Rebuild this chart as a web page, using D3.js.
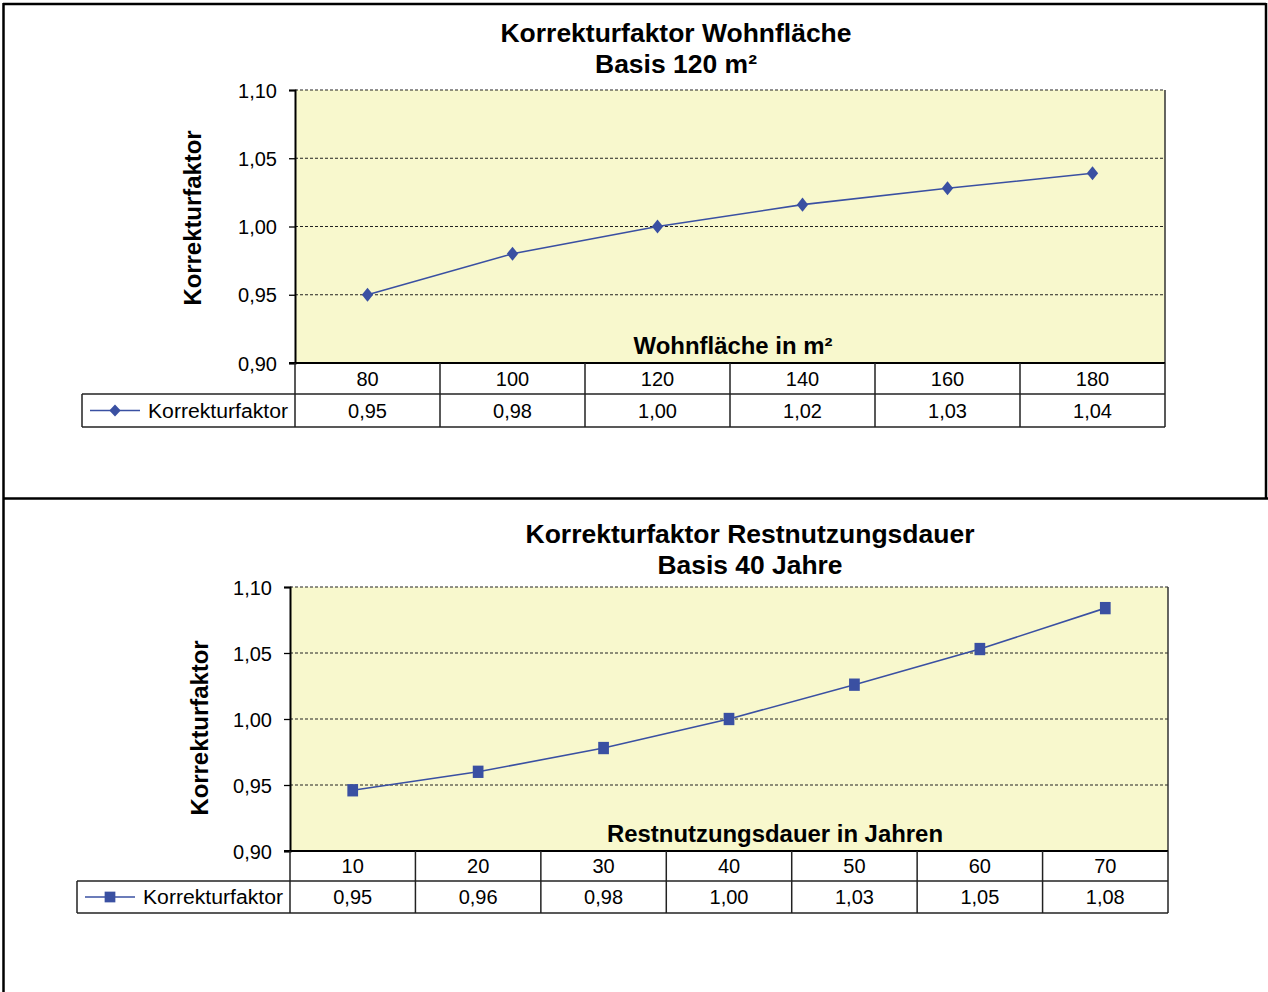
<!DOCTYPE html>
<html><head><meta charset="utf-8">
<script src="https://cdn.jsdelivr.net/npm/d3@7"></script>
<style>html,body{margin:0;padding:0;background:#fff;} svg{display:block;font-family:"Liberation Sans",Arial,sans-serif;}</style>
</head><body>
<svg id="c" width="1268" height="992"></svg>
<script>
// ---- data ----
const areaCategories = [80, 100, 120, 140, 160, 180];
const areaValues = [0.95, 0.98, 1.00, 1.016, 1.028, 1.039];
const durationCategories = [10, 20, 30, 40, 50, 60, 70];
const durationValues = [0.946, 0.96, 0.978, 1.00, 1.026, 1.053, 1.084];
const yTicks = [0.90, 0.95, 1.00, 1.05, 1.10];
const seriesName = "Korrekturfaktor";
const titles1 = ["Korrekturfaktor Wohnfläche", "Basis 120 m²"];
const titles2 = ["Korrekturfaktor Restnutzungsdauer", "Basis 40 Jahre"];
const xTitle1 = "Wohnfläche  in m²";
const xTitle2 = "Restnutzungsdauer in Jahren";

const svg = d3.select("#c");
const fmt = v => v.toFixed(2).replace(".", ",");
const BLUE = "#3A50A2";

// outer frame
svg.append("line").attr("x1",3).attr("x2",1266).attr("y1",4).attr("y2",4).attr("stroke","#000").attr("stroke-width",2.5);
svg.append("line").attr("x1",3.5).attr("x2",3.5).attr("y1",3).attr("y2",992).attr("stroke","#000").attr("stroke-width",2.5);
svg.append("line").attr("x1",1266).attr("x2",1266).attr("y1",3).attr("y2",498).attr("stroke","#000").attr("stroke-width",2.5);
svg.append("line").attr("x1",3).attr("x2",1268).attr("y1",498.5).attr("y2",498.5).attr("stroke","#000").attr("stroke-width",2.5);

function markerPath(type){
  return type==="diamond"
    ? { d: d3.symbol().type(d3.symbolSquare).size(64)(), tf: " rotate(45) scale(1,1)", pre:" scale(1,1.25)" }
    : { d: d3.symbol().type(d3.symbolSquare).size(115)(), tf: "", pre:" scale(1,1.15)" };
}

function chart(o){
  const g = svg.append("g");
  const x = d3.scaleBand().domain(o.cats).range([o.left, o.right]);
  const y = d3.scaleLinear().domain([0.90, 1.10]).range([o.bottom, o.top]);
  g.append("rect").attr("x",o.left).attr("y",o.top).attr("width",o.right-o.left).attr("height",o.bottom-o.top).attr("fill","#F8F8CD");
  g.selectAll(".grid").data(yTicks.filter(t=>t>0.9)).join("line")
    .attr("x1",o.left).attr("x2",o.right).attr("y1",d=>y(d)).attr("y2",d=>y(d))
    .attr("stroke","#222").attr("stroke-width",1.2).attr("stroke-dasharray","3,2");
  g.append("line").attr("x1",o.right).attr("x2",o.right).attr("y1",o.top).attr("y2",o.bottom).attr("stroke","#333").attr("stroke-width",1.5);
  const ya = g.append("g").attr("transform",`translate(${o.left},0)`)
    .call(d3.axisLeft(y).tickValues(yTicks).tickFormat(fmt).tickSize(6).tickPadding(12));
  ya.select(".domain").attr("stroke","#000").attr("stroke-width",2);
  ya.selectAll(".tick line").attr("stroke","#000").attr("stroke-width",1.3);
  ya.selectAll("text").attr("font-size",20).attr("fill","#000").attr("font-family","Liberation Sans, Arial, sans-serif").attr("dy","0.35em");
  g.append("line").attr("x1",o.left-6).attr("x2",o.right).attr("y1",o.bottom).attr("y2",o.bottom).attr("stroke","#000").attr("stroke-width",2);
  // y title
  g.append("text").attr("transform",`translate(${o.ylabX},${o.ylabY}) rotate(-90)`)
    .attr("text-anchor","middle").attr("font-weight","bold").attr("font-size",24)
    .attr("textLength",175).attr("lengthAdjust","spacingAndGlyphs").text(seriesName);
  // titles
  g.append("text").attr("x",o.titleX).attr("y",o.titleY).attr("text-anchor","middle").attr("font-weight","bold").attr("font-size",26)
    .attr("textLength",o.tl[0]).attr("lengthAdjust","spacingAndGlyphs").text(o.titles[0]);
  g.append("text").attr("x",o.titleX).attr("y",o.titleY+31).attr("text-anchor","middle").attr("font-weight","bold").attr("font-size",26)
    .attr("textLength",o.tl[1]).attr("lengthAdjust","spacingAndGlyphs").text(o.titles[1]);
  // x title
  g.append("text").attr("x",o.xtX).attr("y",o.bottom-9).attr("text-anchor","middle").attr("font-weight","bold").attr("font-size",23)
    .attr("textLength",o.xtL).attr("lengthAdjust","spacingAndGlyphs").text(o.xTitle);
  // line + markers
  const cx = d => x(d)+x.bandwidth()/2;
  const line = d3.line().x((d,i)=>cx(o.cats[i])).y(d=>y(d));
  g.append("path").datum(o.vals).attr("d",line).attr("fill","none").attr("stroke",BLUE).attr("stroke-width",1.6);
  const m = markerPath(o.marker);
  g.selectAll(".pt").data(o.vals).join("path")
    .attr("transform",(d,i)=>`translate(${cx(o.cats[i])},${y(d)})${m.pre}${m.tf}`)
    .attr("d",m.d).attr("fill",BLUE);
  // data table
  const r1 = o.bottom, r2 = o.bottom + o.rowH1, r3 = r2 + o.rowH2;
  const tb = g.append("g").attr("stroke","#222").attr("stroke-width",1.5);
  tb.append("line").attr("x1",o.right).attr("x2",o.right).attr("y1",r1).attr("y2",r3);
  tb.append("line").attr("x1",o.legLeft).attr("x2",o.right).attr("y1",r2).attr("y2",r2);
  tb.append("line").attr("x1",o.legLeft).attr("x2",o.right).attr("y1",r3).attr("y2",r3);
  tb.append("line").attr("x1",o.legLeft).attr("x2",o.legLeft).attr("y1",r2).attr("y2",r3);
  tb.selectAll(".v").data(o.cats).join("line")
    .attr("x1",d=>x(d)).attr("x2",d=>x(d)).attr("y1",r1).attr("y2",r3);
  g.selectAll(".ct").data(o.cats).join("text")
    .attr("x",cx).attr("y",(r1+r2)/2).attr("dy","0.36em").attr("text-anchor","middle").attr("font-size",20).text(d=>d);
  g.selectAll(".vt").data(o.vals).join("text")
    .attr("x",(d,i)=>cx(o.cats[i])).attr("y",(r2+r3)/2).attr("dy","0.36em").attr("text-anchor","middle").attr("font-size",20).text(fmt);
  // legend key
  const ly = (r2+r3)/2;
  g.append("line").attr("x1",o.legLeft+8).attr("x2",o.legLeft+58).attr("y1",ly).attr("y2",ly).attr("stroke",BLUE).attr("stroke-width",1.6);
  g.append("path").attr("transform",`translate(${o.legLeft+33},${ly})${o.marker==="diamond"?" scale(1,1.05) rotate(45)":""}`)
    .attr("d",m.d).attr("fill",BLUE);
  g.append("text").attr("x",o.legLeft+66).attr("y",ly).attr("dy","0.36em").attr("font-size",20)
    .attr("textLength",140).attr("lengthAdjust","spacingAndGlyphs").text(seriesName);
}

chart({cats:areaCategories, vals:areaValues, left:295, right:1165, top:90, bottom:363, rowH1:31, rowH2:33,
  legLeft:82, ylabX:201, ylabY:218, titleX:676, titleY:42, tl:[351,162], titles:titles1, xTitle:xTitle1, xtX:733, xtL:199, marker:"diamond"});
chart({cats:durationCategories, vals:durationValues, left:290, right:1168, top:587, bottom:851, rowH1:30, rowH2:32,
  legLeft:77, ylabX:208, ylabY:728, titleX:750, titleY:543, tl:[449,185], titles:titles2, xTitle:xTitle2, xtX:775, xtL:336, marker:"square"});
</script>
</body></html>
